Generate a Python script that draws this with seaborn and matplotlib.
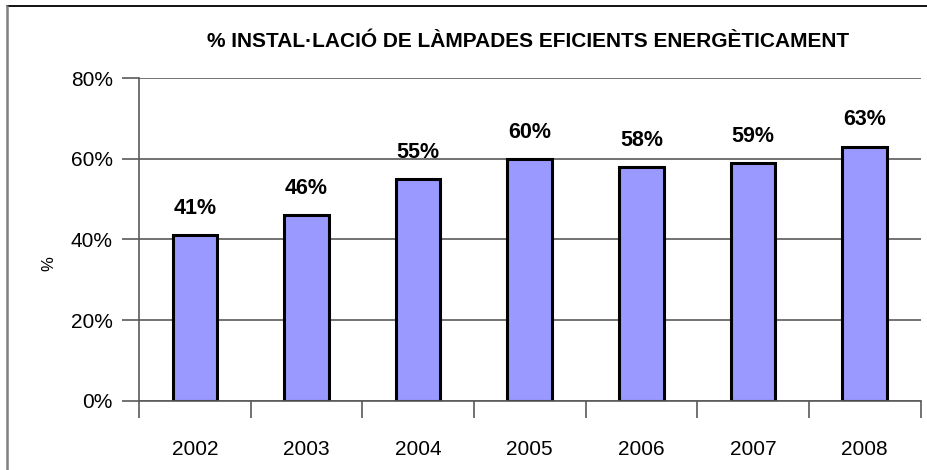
import matplotlib.pyplot as plt
import pandas as pd
import seaborn as sns
from matplotlib.lines import Line2D

# --- Data ---
years = ["2002", "2003", "2004", "2005", "2006", "2007", "2008"]
shares = [41, 46, 55, 60, 58, 59, 63]
y_ticks = [0, 20, 40, 60, 80]
y_tick_labels = ["0%", "20%", "40%", "60%", "80%"]

TITLE = "% INSTAL·LACIÓ DE LÀMPADES EFICIENTS ENERGÈTICAMENT"

df = pd.DataFrame({"year": years, "share": shares})

sns.set_theme(style="white")
plt.rcParams["font.family"] = ["Liberation Sans", "DejaVu Sans"]
plt.rcParams["text.color"] = "black"
plt.rcParams["xtick.color"] = "black"
plt.rcParams["ytick.color"] = "black"

fig = plt.figure(figsize=(9.27, 4.70), dpi=100)
ax = fig.add_axes([0.150, 0.147, 0.843, 0.687])

sns.barplot(
    data=df,
    x="year",
    y="share",
    color="#9999FF",
    saturation=1,
    width=0.4,
    edgecolor="black",
    linewidth=2.2,
    ax=ax,
)

ax.set_xlim(-0.5, len(years) - 0.5)
ax.set_ylim(0, 80)
ax.set_yticks(y_ticks)
ax.set_yticklabels(y_tick_labels, fontsize=15)
ax.yaxis.grid(True, color="#5a5a5a", linewidth=1.2)
ax.set_axisbelow(True)

# category labels centered, tick marks at category boundaries
ax.tick_params(axis="x", which="major", length=0, labelsize=15, pad=28,
               labelcolor="black")
ax.set_xticks([i - 0.5 for i in range(len(years) + 1)], minor=True)
ax.tick_params(axis="x", which="minor", bottom=True, length=12, width=1.2,
               color="#5a5a5a", direction="out")
ax.tick_params(axis="y", which="major", left=True, length=12, width=1.2,
               color="#5a5a5a", direction="out", pad=7, labelcolor="black")

for side in ["top", "right"]:
    ax.spines[side].set_visible(False)
for side in ["left", "bottom"]:
    ax.spines[side].set_color("#5a5a5a")
    ax.spines[side].set_linewidth(1.2)

ax.set_xlabel("")
ax.set_ylabel("%", fontsize=12, color="black")
ax.yaxis.set_label_coords(-0.106, 0.424)

for i, v in enumerate(shares):
    ax.text(i, v + 4, f"{v}%", ha="center", va="bottom", fontsize=15.5,
            fontweight="bold", color="black")

fig.text(0.570, 0.912, TITLE, ha="center", va="center", fontsize=15,
         fontweight="bold", color="black")

# chart frame (only top and left edges fall inside the picture)
fig.add_artist(Line2D([0.0075, 1.0], [0.988, 0.988], transform=fig.transFigure,
                      color="black", linewidth=1.3))
fig.add_artist(Line2D([0.0075, 0.0075], [0.0, 0.988], transform=fig.transFigure,
                      color="#808080", linewidth=1.8))

fig.savefig("out.png", dpi=100)
